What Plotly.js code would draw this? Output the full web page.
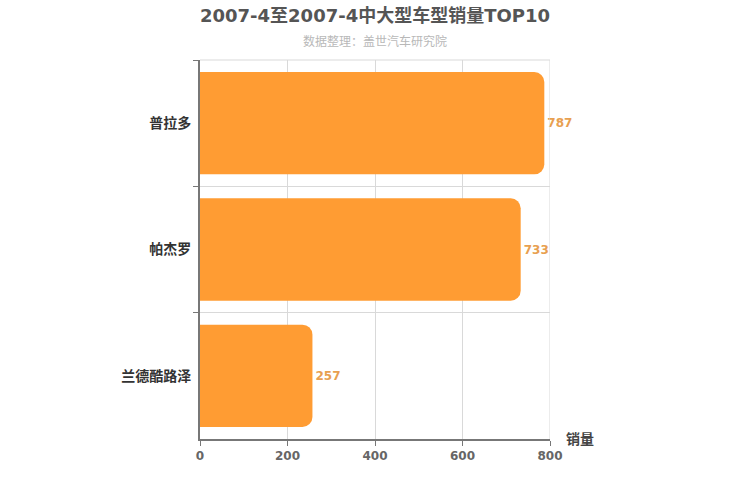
<!DOCTYPE html>
<html>
<head>
<meta charset="utf-8">
<script src="https://cdn.plot.ly/plotly-3.0.1.min.js"></script>
<style>
  html, body { margin: 0; padding: 0; background: #fff; }
  #chart { width: 750px; height: 500px; }
</style>
</head>
<body>
<div id="chart"></div>
<script>
// top to bottom as shown
var models = ['普拉多', '帕杰罗', '兰德酷路泽']
var sales = [787, 733, 257]
var xTicks = [0, 200, 400, 600, 800]

var FONT = '"DejaVu Sans", "Noto Sans CJK SC", sans-serif'

var trace = {
    type: 'bar',
    orientation: 'h',
    x: sales,
    y: models,
    text: sales.map(String),
    textposition: 'outside',
    cliponaxis: false,
    textfont: { color: '#e8a050', size: 12, family: FONT, weight: 'bold' },
    marker: {
        color: '#ff9c33',
        cornerradius: 10,
        line: { width: 0 }
    },
    hoverinfo: 'none'
}

var layout = {
    width: 750,
    height: 500,
    margin: { l: 200, r: 200, t: 60, b: 61 },
    paper_bgcolor: '#ffffff',
    plot_bgcolor: '#ffffff',
    font: { family: FONT },
    showlegend: false,
    bargap: 0.19,
    title: {
        text: '2007-4至2007-4中大型车型销量TOP10',
        font: { size: 18, color: '#555555', family: FONT, weight: 'bold' },
        x: 0.5, xanchor: 'center',
        y: 0.968, yanchor: 'middle'
    },
    xaxis: {
        range: [0, 800],
        tickvals: xTicks,
        ticktext: xTicks.map(String),
        showgrid: true,
        gridcolor: '#d9d9d9',
        gridwidth: 1,
        zeroline: false,
        showline: true,
        linecolor: '#777777',
        linewidth: 2,
        ticks: 'outside',
        ticklen: 5,
        tickcolor: '#777777',
        tickfont: { size: 12, color: '#666666', family: FONT, weight: 'bold' },
        fixedrange: true
    },
    yaxis: {
        autorange: 'reversed',
        showgrid: true,
        gridcolor: '#d9d9d9',
        tickson: 'boundaries',
        ticks: 'outside',
        ticklen: 5,
        tickcolor: '#777777',
        showline: true,
        linecolor: '#777777',
        linewidth: 2,
        ticklabelstandoff: 4,
        tickfont: { size: 14, color: '#333333', family: FONT, weight: 'bold' },
        fixedrange: true
    },
    shapes: [
        { type: 'line', xref: 'x', yref: 'paper', x0: 800, x1: 800, y0: 0, y1: 1,
          line: { color: '#d9d9d9', width: 1 } },
        { type: 'line', xref: 'paper', yref: 'paper', x0: 0, x1: 1, y0: 1, y1: 1,
          line: { color: '#d9d9d9', width: 1 } }
    ],
    annotations: [
        {
            text: '数据整理：盖世汽车研究院',
            xref: 'paper', yref: 'paper', x: 0.5, y: 1.05,
            xanchor: 'center', yanchor: 'middle', showarrow: false,
            font: { size: 12, color: '#b8b8b8', family: FONT }
        },
        {
            text: '销量',
            xref: 'paper', yref: 'paper', x: 1.04, y: 0,
            xanchor: 'left', yanchor: 'middle', showarrow: false,
            font: { size: 14, color: '#444444', family: FONT, weight: 'bold' }
        }
    ]
}

Plotly.newPlot('chart', [trace], layout, { displayModeBar: false, staticPlot: true })
</script>
</body>
</html>
